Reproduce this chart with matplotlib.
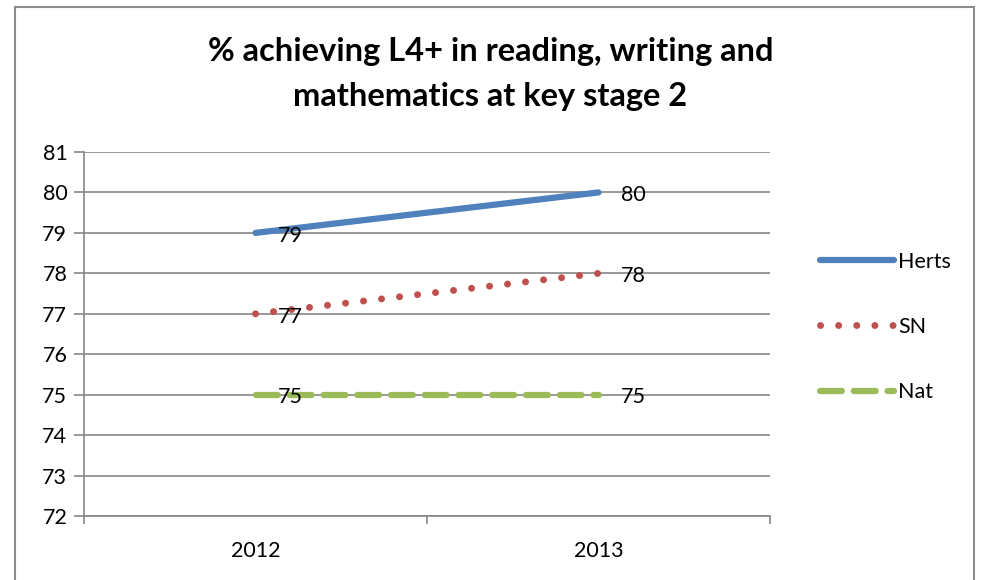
import matplotlib.pyplot as plt
from matplotlib.patches import Rectangle

years = ['2012', '2013']
herts = [79, 80]
sn = [77, 78]
nat = [75, 75]
y_ticks = list(range(72, 82))

plt.rcParams['font.family'] = ['Lato', 'DejaVu Sans']

fig = plt.figure(figsize=(9.81, 5.8), dpi=100)
ax = fig.add_axes([84 / 981, 1 - 516 / 580, (770 - 84) / 981, (516 - 152) / 580])

# outer chart frame
fig.patches.append(Rectangle((15 / 981, -0.05), (974 - 15) / 981, 1.05 - 7 / 580,
                             transform=fig.transFigure, fill=False,
                             edgecolor='#8c8c8c', linewidth=1.5))

x = [0.5, 1.5]
blue = '#4F81BD'
red = '#C0504D'
green = '#9BBB59'

ax.plot(x, herts, color=blue, linewidth=4.5, solid_capstyle='round', label='Herts')
ax.plot(x, sn, color=red, linewidth=5, linestyle=(0, (0.01, 2.6)),
        dash_capstyle='round', label='SN')
ax.plot(x, nat, color=green, linewidth=4.5, linestyle=(0, (3.5, 1.9)),
        dash_capstyle='round', label='Nat')

for series in (herts, sn, nat):
    for xi, v in zip(x, series):
        ax.annotate(str(v), (xi, v), xytext=(16, -2), textcoords='offset points',
                    ha='left', va='center', fontsize=15.5, color='black')

ax.set_xlim(0, 2)
ax.set_ylim(72, 81)
ax.set_yticks(y_ticks)
ax.set_xticks([0, 1, 2])
ax.set_xticklabels([])
ax.set_xticks(x, minor=True)
ax.set_xticklabels(years, minor=True)
ax.tick_params(axis='x', which='minor', length=0, pad=18, labelsize=15.5)
ax.tick_params(axis='x', which='major', length=6, color='#868686', width=1.2)
ax.tick_params(axis='y', length=7, color='#868686', width=1.2, labelsize=15.5, pad=5)
ax.grid(axis='y', color='#868686', linewidth=1.2)
for side in ('top', 'right'):
    ax.spines[side].set_visible(False)
for side in ('left', 'bottom'):
    ax.spines[side].set_color('#868686')
    ax.spines[side].set_linewidth(1.2)
ax.set_axisbelow(True)

fig.text(0.5, 1 - 74 / 580, '% achieving L4+ in reading, writing and\nmathematics at key stage 2',
         ha='center', va='center', fontsize=23.5, fontweight='bold', linespacing=1.65)

leg = fig.legend(loc='center left', bbox_to_anchor=(801 / 981, 1 - 327 / 580),
                 frameon=False, fontsize=15.5, handlelength=3.4, labelspacing=2.1,
                 handletextpad=0.2)

fig.savefig('out.png', dpi=100)
